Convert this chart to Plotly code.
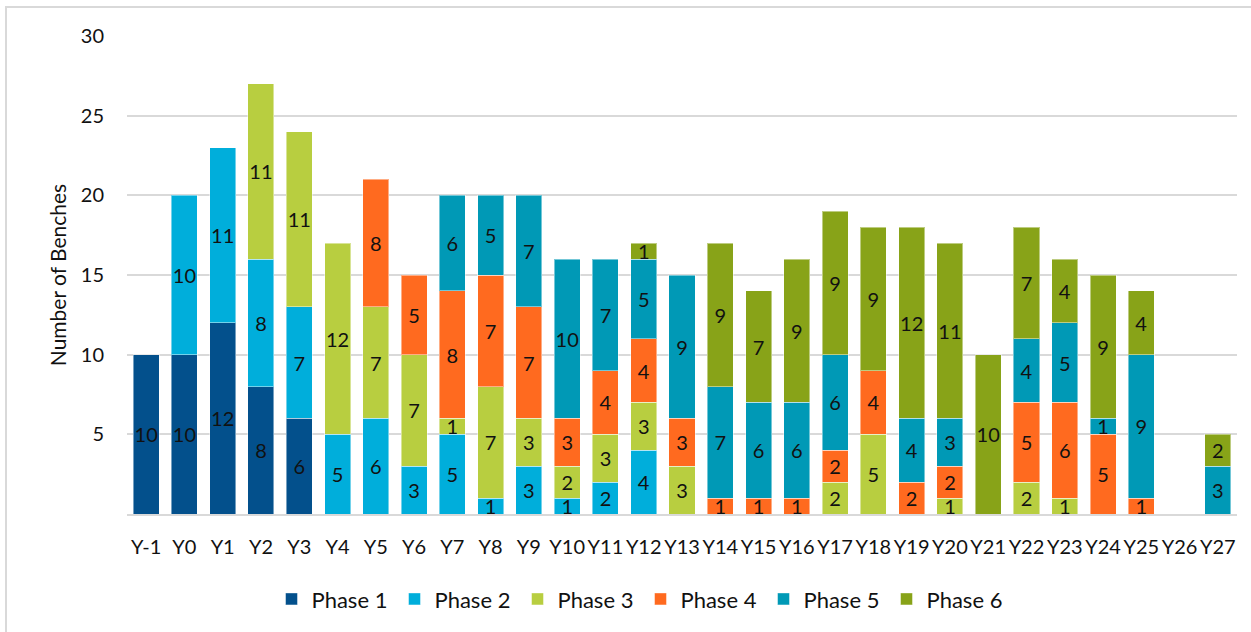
import plotly.graph_objects as go

# Categories (project years) and bench counts per phase
years = ["Y-1", "Y0", "Y1", "Y2", "Y3", "Y4", "Y5", "Y6", "Y7", "Y8", "Y9",
         "Y10", "Y11", "Y12", "Y13", "Y14", "Y15", "Y16", "Y17", "Y18", "Y19",
         "Y20", "Y21", "Y22", "Y23", "Y24", "Y25", "Y26", "Y27"]

phase_1 = [10, 10, 12, 8, 6, None, None, None, None, None, None,
           None, None, None, None, None, None, None, None, None, None,
           None, None, None, None, None, None, None, None]
phase_2 = [None, 10, 11, 8, 7, 5, 6, 3, 5, 1, 3,
           1, 2, 4, None, None, None, None, None, None, None,
           None, None, None, None, None, None, None, None]
phase_3 = [None, None, None, 11, 11, 12, 7, 7, 1, 7, 3,
           2, 3, 3, 3, None, None, None, 2, 5, None,
           1, None, 2, 1, None, None, None, None]
phase_4 = [None, None, None, None, None, None, 8, 5, 8, 7, 7,
           3, 4, 4, 3, 1, 1, 1, 2, 4, 2,
           2, None, 5, 6, 5, 1, None, None]
phase_5 = [None, None, None, None, None, None, None, None, 6, 5, 7,
           10, 7, 5, 9, 7, 6, 6, 6, None, 4,
           3, None, 4, 5, 1, 9, None, 3]
phase_6 = [None, None, None, None, None, None, None, None, None, None, None,
           None, None, 1, None, 9, 7, 9, 9, 9, 12,
           11, 10, 7, 4, 9, 4, None, 2]

series = [
    ("Phase 1", phase_1, "#03508C"),
    ("Phase 2", phase_2, "#00AEDB"),
    ("Phase 3", phase_3, "#B8CE40"),
    ("Phase 4", phase_4, "#FF6A1F"),
    ("Phase 5", phase_5, "#0099B6"),
    ("Phase 6", phase_6, "#88A318"),
]

FONT = "Lato, Calibri, Carlito, sans-serif"

fig = go.Figure()
for name, vals, color in series:
    fig.add_trace(go.Bar(
        name=name,
        x=years,
        y=vals,
        marker=dict(color=color, line=dict(color="rgba(255,255,255,0.45)", width=1)),
        text=vals,
        texttemplate="%{y}",
        textposition="inside",
        insidetextanchor="middle",
        textangle=0,
        textfont=dict(color="#111111", size=20, family=FONT),
        cliponaxis=False,
    ))

fig.update_layout(
    barmode="stack",
    bargap=0.32,
    width=1251,
    height=632,
    paper_bgcolor="white",
    plot_bgcolor="white",
    margin=dict(l=127, r=14, t=36, b=118),
    font=dict(family=FONT, size=20, color="#111111"),
    uniformtext=dict(minsize=20, mode="show"),
    legend=dict(
        orientation="h",
        traceorder="normal",
        xref="container", yref="container",
        x=0.512, xanchor="center",
        y=0.052, yanchor="middle",
        font=dict(size=22, family=FONT),
        entrywidth=78,
        entrywidthmode="pixels",
        itemwidth=30,
        itemclick=False,
    ),
    xaxis=dict(
        type="category",
        showgrid=False,
        showline=True,
        linecolor="#d9d9d9",
        linewidth=2,
        ticks="",
        ticklabelstandoff=14,
        tickfont=dict(size=20, family=FONT),
    ),
    yaxis=dict(
        range=[0, 30],
        tickvals=[5, 10, 15, 20, 25, 30],
        showgrid=True,
        gridcolor="#d9d9d9",
        gridwidth=2,
        zeroline=False,
        ticks="",
        ticklabelstandoff=22,
        tickfont=dict(size=20, family=FONT),
        title=dict(text="Number of Benches", standoff=8,
                   font=dict(size=21, family=FONT)),
    ),
    shapes=[dict(
        type="rect", xref="paper", yref="paper",
        x0=-0.109, x1=1.03, y0=-0.3, y1=1.0607,
        line=dict(color="#d9d9d9", width=2),
        fillcolor="rgba(0,0,0,0)",
        layer="below",
    )],
)

fig.write_html("out.html")
